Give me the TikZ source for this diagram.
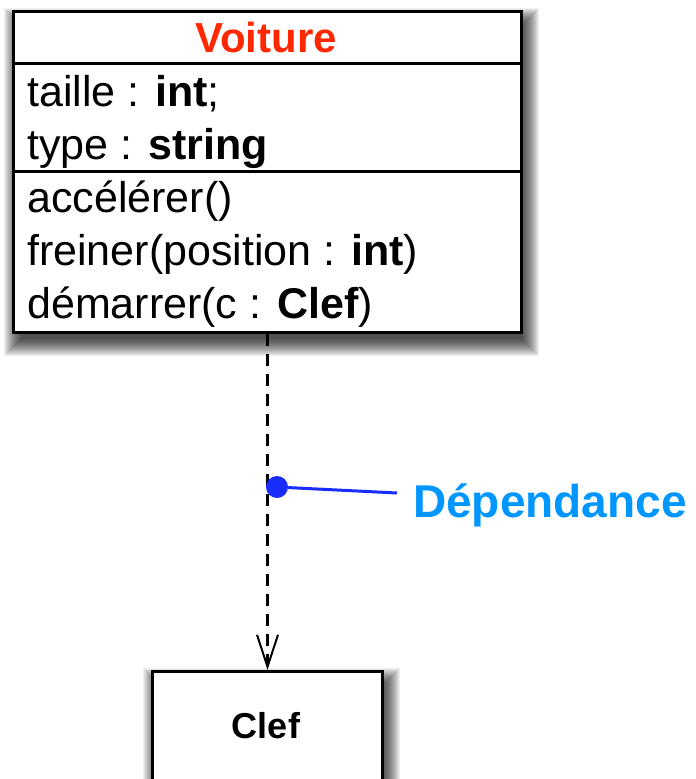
\documentclass[tikz,border=0pt]{standalone}
\usepackage{fontspec}
\setmainfont{Liberation Sans}
\usetikzlibrary{arrows.meta,backgrounds}
\definecolor{titlered}{RGB}{255,40,0}
\definecolor{notecyan}{RGB}{0,150,255}
\definecolor{pinblue}{RGB}{25,45,255}
% soft drop shadow behind a named box, built from stacked translucent layers
% (each layer grows by 1pt; the stack is offset right and downwards)
\newcommand\castshadow[1]{%
  \begin{pgfonlayer}{background}
    \foreach \e in {-5,...,12}
      \fill[black, opacity=0.06]
        ([shift={(4-\e,10-\e)}]#1.north west) rectangle
        ([shift={(4+\e,10+\e)}]#1.south east);
  \end{pgfonlayer}}
\begin{document}
\begin{tikzpicture}[x=1pt,y=-1pt,
  classbox/.style={draw=black, line width=3pt, fill=white, rectangle,
    inner sep=0pt, anchor=north west},
  member/.style={anchor=base west, inner sep=0pt,
    font=\fontsize{43}{52}\selectfont},
  divider/.style={line width=3pt},
  dependency/.style={line width=2.5pt, dash pattern=on 12pt off 8pt,
    -{Straight Barb[length=32pt,width=21pt,line width=2pt]}},
  note/.style={anchor=base west, inner sep=0pt, text=notecyan,
    font=\fontsize{46}{52}\selectfont\bfseries}]
  \clip (0,0) rectangle (696,779);
  \begin{pgfonlayer}{background}
    \fill[white] (0,0) rectangle (696,779);
  \end{pgfonlayer}

  % class Voiture
  \node[classbox, minimum width=508pt, minimum height=321pt] (voiture) at (12,10) {};
  \draw[divider] (12,63) -- (520,63);
  \draw[divider] (12,171) -- (520,171);
  \node[anchor=base, inner sep=0pt, text=titlered,
    font=\fontsize{42}{52}\selectfont\bfseries] (vtitle) at (266,52) {Voiture};
  \node[member] (a1) at (27,106) {taille : \textbf{int};};
  \node[member] (a2) at (27,159) {type : \textbf{string}};
  \node[member] (m1) at (27,212) {accélérer()};
  \node[member] (m2) at (27,265) {freiner(position : \textbf{int})};
  \node[member] (m3) at (27,318) {démarrer(c : \textbf{Clef})};

  % class Clef
  \node[classbox, minimum width=230pt, minimum height=150pt] (clef) at (151,670) {};
  \node[anchor=base, inner sep=0pt, font=\fontsize{36}{44}\selectfont\bfseries]
    (clefname) at (266,738) {Clef};

  % shadows
  \castshadow{voiture}
  \castshadow{clef}

  % dependency connector
  \draw[dependency] (voiture.south) -- (clef.north);

  % annotation
  \node[circle, fill=pinblue, minimum size=22pt, inner sep=0pt] (pin) at (277,487) {};
  \coordinate (pinend) at (397,493);
  \draw[pinblue, line width=3pt] (pin) -- (pinend);
  \node[note] (deplabel) at (413,517) {Dépendance};
\end{tikzpicture}
\end{document}
